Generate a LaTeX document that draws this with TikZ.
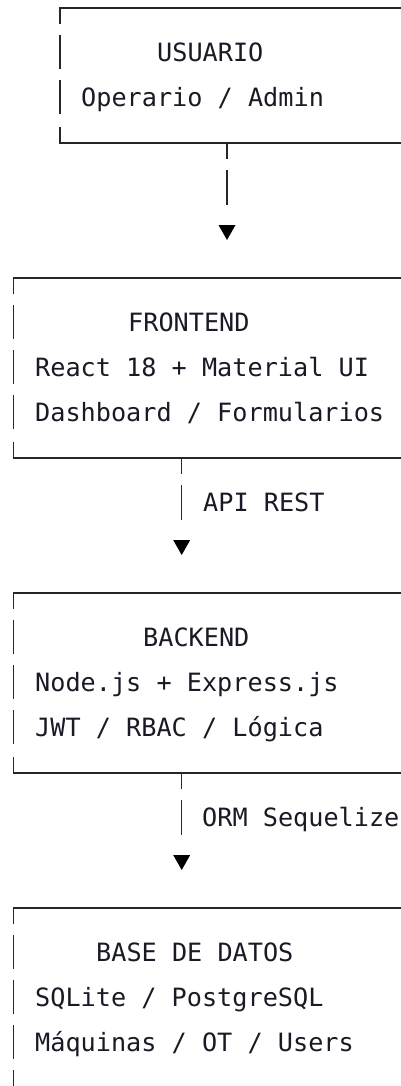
\documentclass[tikz,border=0pt]{standalone}
\usepackage{fontspec}
\newfontfamily\monof{DejaVu Sans Mono}
\definecolor{linecol}{HTML}{262626}
\definecolor{txtcol}{HTML}{1A1A26}
\begin{document}
\begin{tikzpicture}[x=1pt,y=-1pt,
  lbl/.style={anchor=base west, inner sep=0pt, font=\monof\fontsize{25.2}{30}\selectfont, text=txtcol},
  rule/.style={draw=linecol, line width=1.5pt},
  tip/.style={fill=black, draw=none}]
\useasboundingbox (0,0) rectangle (401,1086);
% ---------- USUARIO box ----------
\draw[rule] (60,24) |- (401,8);
\foreach \c in {53,98} \draw[rule] (60,\c-18) -- (60,\c+16);
\draw[rule] (60,127) |- (401,143);
\node[lbl] (usr)  at (157,61.5)  {USUARIO};
\node[lbl] (usr2) at (81,106.5)  {Operario / Admin};
% connector 1
\coordinate (a1s) at (227,143);
\coordinate (a1m) at (227,188);
\coordinate (a1t) at (227,233);
\draw[rule] (a1s) -- ++(0,16);
\draw[rule] ([yshift=18pt]a1m) -- ([yshift=-17pt]a1m);
\fill[tip] ([shift={(-8.5,-8)}]a1t) -- ([shift={(8.5,-8)}]a1t) -- ([shift={(0,7)}]a1t) -- cycle;
% ---------- FRONTEND box ----------
\draw[rule] (13.3,294) |- (401,278);
\foreach \c in {323,368,413} \draw[rule] (13.3,\c-18) -- (13.3,\c+16);
\draw[rule] (13.3,442) |- (401,458);
\node[lbl] (fe)  at (128,331.5) {FRONTEND};
\node[lbl] (fe2) at (35,376.5)  {React 18 + Material UI};
\node[lbl] (fe3) at (35,421.5)  {Dashboard / Formularios};
% connector 2
\coordinate (a2s) at (181.7,458);
\coordinate (a2m) at (181.7,503);
\coordinate (a2t) at (181.7,548);
\draw[rule] (a2s) -- ++(0,16);
\draw[rule] ([yshift=18pt]a2m) -- ([yshift=-17pt]a2m);
\node[lbl] (api) at (203,511.5) {API REST};
\fill[tip] ([shift={(-8.5,-8)}]a2t) -- ([shift={(8.5,-8)}]a2t) -- ([shift={(0,7)}]a2t) -- cycle;
% ---------- BACKEND box ----------
\draw[rule] (13.3,609) |- (401,593);
\foreach \c in {638,683,728} \draw[rule] (13.3,\c-18) -- (13.3,\c+16);
\draw[rule] (13.3,757) |- (401,773);
\node[lbl] (be)  at (143,646.5) {BACKEND};
\node[lbl] (be2) at (35,691.5)  {Node.js + Express.js};
\node[lbl] (be3) at (35,736.5)  {JWT / RBAC / Lógica};
% connector 3
\coordinate (a3s) at (181.7,773);
\coordinate (a3m) at (181.7,818);
\coordinate (a3t) at (181.7,863);
\draw[rule] (a3s) -- ++(0,16);
\draw[rule] ([yshift=18pt]a3m) -- ([yshift=-17pt]a3m);
\node[lbl] (orm) at (202,826.5) {ORM Sequelize};
\fill[tip] ([shift={(-8.5,-8)}]a3t) -- ([shift={(8.5,-8)}]a3t) -- ([shift={(0,7)}]a3t) -- cycle;
% ---------- BASE DE DATOS box ----------
\draw[rule] (13.3,924) |- (401,908);
\foreach \c in {953,998,1043,1088} \draw[rule] (13.3,\c-18) -- (13.3,\c+16);
\node[lbl] (db)  at (96,961.5)  {BASE DE DATOS};
\node[lbl] (db2) at (35,1006.5) {SQLite / PostgreSQL};
\node[lbl] (db3) at (35,1051.5) {Máquinas / OT / Users};
\end{tikzpicture}
\end{document}
